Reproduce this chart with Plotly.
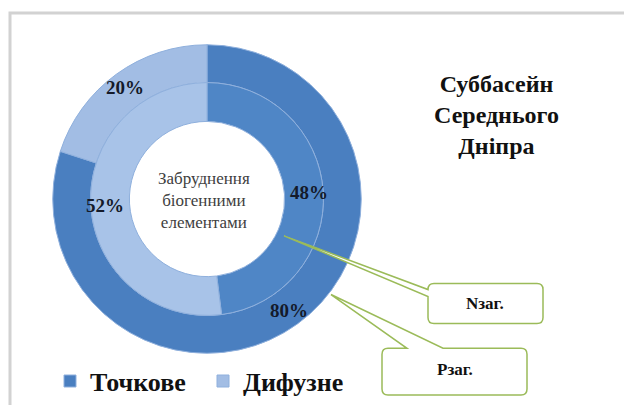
import math
import plotly.graph_objects as go

# ---- data ----
categories = ["Точкове", "Дифузне"]
outer_values = [80, 20]   # Рзаг.
inner_values = [48, 52]   # Nзаг.
center_text = "Забруднення<br>біогенними<br>елементами"
title_text = "Суббасейн<br>Середнього<br>Дніпра"
callout_n = "Nзаг."
callout_p = "Рзаг."

# ---- style ----
W, H = 624, 405
outer_colors = ["#4a7fc0", "#a2bde4"]
inner_colors = ["#4f86c6", "#a8c3e8"]
SERIF = "Liberation Serif"
GREEN = "#9bbb59"


def px(x):
    return x / W


def py(y):
    return 1 - y / H


cx, cy = 207, 200
R_out, R_mid, R_in = 155, 117, 78

fig = go.Figure()
fig.add_trace(go.Pie(
    labels=categories, values=outer_values, sort=False, direction="clockwise",
    rotation=0, hole=R_mid / R_out,
    domain=dict(x=[px(cx - R_out), px(cx + R_out)], y=[py(cy + R_out), py(cy - R_out)]),
    marker=dict(colors=outer_colors, line=dict(color="#8fb0dd", width=1)),
    textinfo="none", hoverinfo="label+percent", showlegend=True,
))
fig.add_trace(go.Pie(
    labels=categories, values=inner_values, sort=False, direction="clockwise",
    rotation=0, hole=R_in / R_mid,
    domain=dict(x=[px(cx - R_mid), px(cx + R_mid)], y=[py(cy + R_mid), py(cy - R_mid)]),
    marker=dict(colors=inner_colors, line=dict(color="#8fb0dd", width=1)),
    textinfo="none", hoverinfo="label+percent", showlegend=False,
))


def slice_labels(values, r_a, r_b, dr=0):
    """Percent labels placed at the middle of each ring slice (clockwise from 12 o'clock)."""
    total = sum(values)
    out = []
    acc = 0
    rm = (r_a + r_b) / 2 + dr
    for v in values:
        mid = (acc + v / 2) / total * 2 * math.pi
        acc += v
        x = cx + rm * math.sin(mid)
        y = cy - rm * math.cos(mid)
        out.append(dict(text=f"{v}%", x=px(x), y=py(y), xref="paper", yref="paper",
                        showarrow=False, xanchor="center", yanchor="middle",
                        font=dict(family=SERIF, size=19, color="#141a2a", weight="bold")))
    return out


def rounded_box_path(x0, y0, x1, y1, r, pointer=None):
    pts = [f"M{px(x0 + r)},{py(y0)}"]
    if pointer and pointer[0] == "top":
        _, xa, xb, tx, ty = pointer
        pts += [f"L{px(xa)},{py(y0)}", f"L{px(tx)},{py(ty)}", f"L{px(xb)},{py(y0)}"]
    pts.append(f"L{px(x1 - r)},{py(y0)}")
    pts.append(f"Q{px(x1)},{py(y0)} {px(x1)},{py(y0 + r)}")
    pts.append(f"L{px(x1)},{py(y1 - r)}")
    pts.append(f"Q{px(x1)},{py(y1)} {px(x1 - r)},{py(y1)}")
    pts.append(f"L{px(x0 + r)},{py(y1)}")
    pts.append(f"Q{px(x0)},{py(y1)} {px(x0)},{py(y1 - r)}")
    if pointer and pointer[0] == "left":
        _, ya, yb, tx, ty = pointer
        pts += [f"L{px(x0)},{py(yb)}", f"L{px(tx)},{py(ty)}", f"L{px(x0)},{py(ya)}"]
    pts.append(f"L{px(x0)},{py(y0 + r)}")
    pts.append(f"Q{px(x0)},{py(y0)} {px(x0 + r)},{py(y0)}")
    pts.append("Z")
    return " ".join(pts)


shapes = [
    dict(type="rect", xref="paper", yref="paper", x0=px(10), x1=px(640), y0=py(420), y1=py(13),
         line=dict(color="#d2d2d2", width=3), fillcolor="rgba(0,0,0,0)", layer="below"),
    dict(type="path", xref="paper", yref="paper",
         path=rounded_box_path(428, 285, 543, 325, 6, ("left", 291, 298, 284, 237)),
         line=dict(color=GREEN, width=1.5), fillcolor="white"),
    dict(type="path", xref="paper", yref="paper",
         path=rounded_box_path(382, 350, 527, 397, 6, ("top", 407, 443, 331, 296)),
         line=dict(color=GREEN, width=1.5), fillcolor="white"),
]

annotations = slice_labels(outer_values, R_mid, R_out, 3) + slice_labels(inner_values, R_in, R_mid, 5)
annotations += [
    dict(text=center_text, x=px(cx - 3), y=py(cy + 1), xref="paper", yref="paper", showarrow=False,
         xanchor="center", yanchor="middle",
         font=dict(family=SERIF, size=17, color="#404040"), align="center"),
    dict(text=title_text, x=px(497), y=py(116), xref="paper", yref="paper", showarrow=False,
         xanchor="center", yanchor="middle",
         font=dict(family=SERIF, size=24, color="#111111", weight="bold"), align="center"),
    dict(text=callout_n, x=px(485), y=py(305), xref="paper", yref="paper", showarrow=False,
         xanchor="center", yanchor="middle",
         font=dict(family=SERIF, size=17, color="#111111", weight="bold")),
    dict(text=callout_p, x=px(455), y=py(371), xref="paper", yref="paper", showarrow=False,
         xanchor="center", yanchor="middle",
         font=dict(family=SERIF, size=17, color="#111111", weight="bold")),
]

fig.update_layout(
    width=W, height=H, margin=dict(l=0, r=0, t=0, b=0),
    paper_bgcolor="white", plot_bgcolor="white",
    shapes=shapes, annotations=annotations,
    legend=dict(orientation="h", x=px(50), y=py(383), xanchor="left", yanchor="middle",
                font=dict(family=SERIF, size=26, color="#111111", weight="bold"),
                bgcolor="rgba(0,0,0,0)", itemwidth=30, entrywidth=108, entrywidthmode="pixels"),
)

fig.write_html("out.html")
